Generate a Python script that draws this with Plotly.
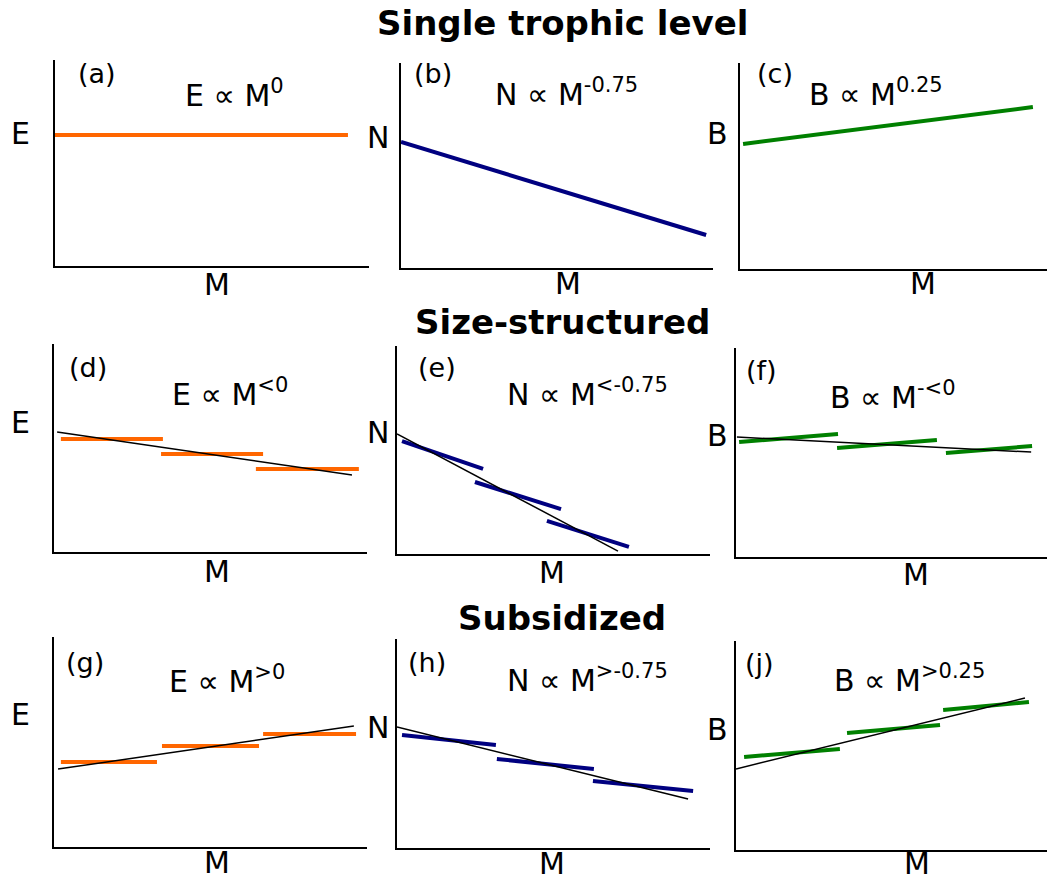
import plotly.graph_objects as go

W, H = 1047, 882

# ---------------- data (schematic values, axis units 0..1) ----------------
row_titles = ["Single trophic level", "Size-structured", "Subsidized"]
panel_labels = ["(a)", "(b)", "(c)", "(d)", "(e)", "(f)", "(g)", "(h)", "(j)"]
y_labels = ["E", "N", "B", "E", "N", "B", "E", "N", "B"]
x_label = "M"
formulas = ["E ∝ M<sup>0</sup>", "N ∝ M<sup>-0.75</sup>", "B ∝ M<sup>0.25</sup>",
            "E ∝ M<sup><0</sup>", "N ∝ M<sup><-0.75</sup>", "B ∝ M<sup>-<0</sup>",
            "E ∝ M<sup>>0</sup>", "N ∝ M<sup>>-0.75</sup>", "B ∝ M<sup>>0.25</sup>"]

# overall trend lines (x pair, y pair); colored in row 1, black thin in rows 2-3
trend_x = [[0.0, 0.933], [0.0, 0.978], [0.01, 0.954],
           [0.01, 0.952], [0.0, 0.706], [0.003, 0.949],
           [0.013, 0.958], [0.0, 0.930], [0.0, 0.929]]
trend_y = [[0.636, 0.636], [0.615, 0.161], [0.607, 0.786],
           [0.577, 0.370], [0.577, 0.014], [0.574, 0.502],
           [0.371, 0.576], [0.579, 0.234], [0.388, 0.727]]

# trophic-level segments for rows 2-3 (panels d..j)
seg_x = {
    "d": [[0.022, 0.348], [0.342, 0.668], [0.645, 0.974]],
    "e": [[0.016, 0.275], [0.249, 0.524], [0.479, 0.741]],
    "f": [[0.010, 0.328], [0.325, 0.646], [0.675, 0.952]],
    "g": [[0.022, 0.329], [0.345, 0.655], [0.668, 0.965]],
    "h": [[0.016, 0.316], [0.319, 0.629], [0.626, 0.946]],
    "j": [[0.026, 0.334], [0.357, 0.656], [0.666, 0.942]],
}
seg_y = {
    "d": [[0.543, 0.543], [0.471, 0.471], [0.399, 0.399]],
    "e": [[0.543, 0.409], [0.346, 0.216], [0.159, 0.034]],
    "f": [[0.550, 0.589], [0.522, 0.560], [0.498, 0.531]],
    "g": [[0.405, 0.405], [0.481, 0.481], [0.538, 0.538]],
    "h": [[0.541, 0.493], [0.426, 0.378], [0.321, 0.273]],
    "j": [[0.445, 0.483], [0.560, 0.598], [0.670, 0.708]],
}

# ---------------- layout geometry (pixels) ----------------
colors = ["#ff6600", "#000080", "#008000"]
boxes = [(55, 369, 60, 266), (401, 713, 63, 268), (740, 1047, 63, 269),
         (54, 367, 344, 552), (397, 710, 346, 554), (736, 1047, 348, 557),
         (54, 367, 637, 847), (397, 710, 639, 848), (736, 1047, 641, 850)]
title_pos = [(562, 23), (562, 322), (562, 618)]
ylab_pos = [(20, 134), (378, 137), (717, 133), (20, 422), (378, 432), (717, 435),
            (20, 714), (378, 727), (717, 729)]
xlab_pos = [(217, 284), (568, 283), (923, 283), (217, 571), (552, 572), (916, 574),
            (217, 862), (552, 863), (917, 863)]
plab_pos = [(97, 73), (433, 73), (775, 73), (88, 368), (437, 368), (761, 370),
            (85, 662), (427, 662), (759, 663)]
form_pos = [(183, 98), (493, 97), (807, 97), (170, 398), (505, 398), (828, 400),
            (167, 684), (505, 683), (832, 683)]

FONT = "DejaVu Sans"


def px(x):
    return x / W


def py(y):
    return 1 - y / H


fig = go.Figure()
layout = dict(width=W, height=H, margin=dict(l=0, r=0, t=0, b=0),
              paper_bgcolor="white", plot_bgcolor="white", showlegend=False,
              font=dict(family=FONT, color="black"))
annotations = []
keys = ["a", "b", "c", "d", "e", "f", "g", "h", "j"]


def ann(text, pos, size, xanchor="center"):
    annotations.append(dict(text=text, x=px(pos[0]), y=py(pos[1]), xref="paper",
                            yref="paper", showarrow=False, xanchor=xanchor,
                            yanchor="middle",
                            font=dict(family=FONT, size=size, color="black")))


for i, (l, r, t, b) in enumerate(boxes):
    n = "" if i == 0 else str(i + 1)
    ax = dict(range=[0, 1], showgrid=False, zeroline=False,
              showticklabels=False, ticks="", showline=True, linecolor="black",
              linewidth=2, fixedrange=True)
    layout["xaxis" + n] = dict(ax, domain=[px(l), px(r)], anchor="y" + n)
    layout["yaxis" + n] = dict(ax, domain=[py(b), py(t)], anchor="x" + n)
    col = colors[i % 3]
    xr, yr = "x" + n, "y" + n
    if i < 3:
        fig.add_trace(go.Scatter(x=trend_x[i], y=trend_y[i], mode="lines",
                                 line=dict(color=col, width=4), xaxis=xr, yaxis=yr,
                                 hoverinfo="skip"))
    else:
        k = keys[i]
        for sx, sy in zip(seg_x[k], seg_y[k]):
            fig.add_trace(go.Scatter(x=sx, y=sy, mode="lines",
                                     line=dict(color=col, width=4), xaxis=xr, yaxis=yr,
                                     hoverinfo="skip"))
        fig.add_trace(go.Scatter(x=trend_x[i], y=trend_y[i], mode="lines",
                                 line=dict(color="black", width=1.5), xaxis=xr, yaxis=yr,
                                 hoverinfo="skip"))

    ann(y_labels[i], ylab_pos[i], 30)
    ann(x_label, xlab_pos[i], 30)
    ann(panel_labels[i], plab_pos[i], 27)
    ann(formulas[i], (form_pos[i][0], form_pos[i][1] - 5), 30, xanchor="left")

for txt, pos in zip(row_titles, title_pos):
    ann("<b>" + txt + "</b>", pos, 34)

layout["annotations"] = annotations
fig.update_layout(**layout)
fig.write_html("out.html")
